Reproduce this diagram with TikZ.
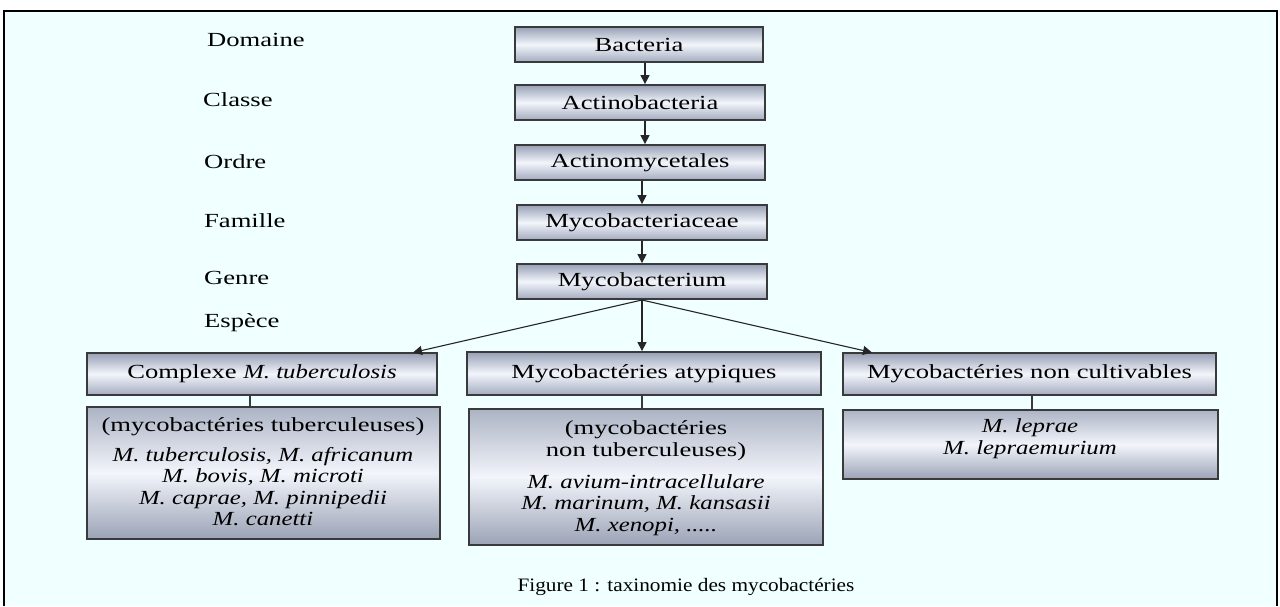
\documentclass[tikz,border=0pt]{standalone}
\usepackage{fontspec}
\setmainfont{Liberation Serif}[FakeStretch=1.33, ItalicFeatures={FakeStretch=1.24}]
\newfontfamily\capfont{Liberation Serif}[FakeStretch=1.12]
\usetikzlibrary{arrows.meta}
\definecolor{bgc}{HTML}{F0FFFF}
\definecolor{boxtop}{HTML}{97A0B5}
\definecolor{boxmid}{HTML}{F2F5FB}
\definecolor{boxbot}{HTML}{A3ABBF}
\definecolor{edgec}{HTML}{3A3A3A}
\tikzset{
  taxbox/.style={draw=edgec, line width=1.8pt, rectangle, top color=boxtop, bottom color=boxbot, middle color=boxmid, inner sep=0pt, font=\fontsize{20}{22}\selectfont, align=center},
  listbox/.style={draw=edgec, line width=1.8pt, rectangle, top color=boxtop!80, bottom color=boxbot!95!black, middle color=boxmid, inner sep=0pt, font=\fontsize{20}{21.5}\selectfont, align=center},
  lvl/.style={anchor=west, inner sep=0pt, font=\fontsize{20}{22}\selectfont},
  arr/.style={draw=black!85, line width=1.1pt, -{Triangle[length=9pt,width=9pt]}},
  link/.style={draw=edgec, line width=1.8pt}
}
\begin{document}
\begin{tikzpicture}[x=1pt,y=-1pt]
\useasboundingbox (0,0) rectangle (1280,606);
\fill[white] (0,0) rectangle (1280,606);
\fill[bgc] (4,11) rectangle (1277,606);
\draw[black, line width=2.5pt] (4,606) -- (4,11) -- (1277,11) -- (1277,606);

% level labels
\node[lvl] (lDom) at (207,40) {Domaine};
\node[lvl] (lCla) at (203,100) {Classe};
\node[lvl] (lOrd) at (204,162) {Ordre};
\node[lvl] (lFam) at (204,221) {Famille};
\node[lvl] (lGen) at (204,278) {Genre};
\node[lvl] (lEsp) at (204,323) {Espèce};

% main chain
\node[taxbox, minimum width=248pt, minimum height=35pt] (bac) at (639,44.5) {Bacteria};
\node[taxbox, minimum width=250pt, minimum height=35pt] (act) at (640,102.5) {Actinobacteria};
\node[taxbox, minimum width=250pt, minimum height=35pt] (acm) at (640,162.5) {Actinomycetales};
\node[taxbox, minimum width=250pt, minimum height=35pt] (myf) at (642,222.5) {Mycobacteriaceae};
\node[taxbox, minimum width=250pt, minimum height=35pt] (myc) at (642,281.5) {Mycobacterium};

\draw[arr] (bac.south -| 645,0) -- (act.north -| 645,0);
\draw[arr] (act.south -| 645,0) -- (acm.north -| 645,0);
\draw[arr] (acm.south -| 642,0) -- (myf.north -| 642,0);
\draw[arr] (myf.south -| 642,0) -- (myc.north -| 642,0);

% species groups
\node[taxbox, minimum width=350pt, minimum height=42pt] (cmt) at (262,374) {Complexe \textit{M. tuberculosis}};
\node[taxbox, minimum width=354pt, minimum height=43pt] (mat) at (644,373.5) {Mycobactéries atypiques};
\node[taxbox, minimum width=373pt, minimum height=42pt] (mnc) at (1029.5,374) {Mycobactéries non cultivables};

\coordinate (fork) at (642,300);
\draw[arr] (fork) -- (413,352.5);
\draw[arr] (fork) -- (mat.north -| 642,0);
\draw[arr] (fork) -- (872,352.5);

% lists
\node[listbox, minimum width=353pt, minimum height=132pt] (ltb) at (263.5,473) {};
\node[listbox, minimum width=354pt, minimum height=136pt] (lnt) at (646,477) {};
\node[listbox, minimum width=375pt, minimum height=69pt] (lnc) at (1030.5,444.5) {};

\node[font=\fontsize{20}{22}\selectfont, inner sep=0pt] (t1) at (263,427) {(mycobactéries tuberculeuses)};
\node[font=\fontsize{20}{21.5}\selectfont, inner sep=0pt, align=center, anchor=north] (t2) at (263,447) {\itshape M. tuberculosis, M. africanum\\ \itshape M. bovis, M. microti\\ \itshape M. caprae, M. pinnipedii\\ \itshape M. canetti};

\node[font=\fontsize{20}{22}\selectfont, inner sep=0pt, align=center, anchor=north] (t3) at (646,420) {(mycobactéries\\non tuberculeuses)};
\node[font=\fontsize{20}{21.5}\selectfont, inner sep=0pt, align=center, anchor=north] (t4) at (646,474) {\itshape M. avium-intracellulare\\ \itshape M. marinum, M. kansasii\\ \itshape M. xenopi, .....};

\node[font=\fontsize{20}{22}\selectfont, inner sep=0pt, align=center, anchor=north] (t5) at (1030,418) {\itshape M. leprae\\ \itshape M. lepraemurium};

\draw[link] (cmt.south -| 250,0) -- (ltb.north -| 250,0);
\draw[link] (mat.south -| 642,0) -- (lnt.north -| 642,0);
\draw[link] (mnc.south -| 1032,0) -- (lnc.north -| 1032,0);

\node[font=\capfont\fontsize{19}{21}\selectfont, inner sep=0pt] (cap) at (686,587) {Figure 1 : taxinomie des mycobactéries};
\end{tikzpicture}
\end{document}
